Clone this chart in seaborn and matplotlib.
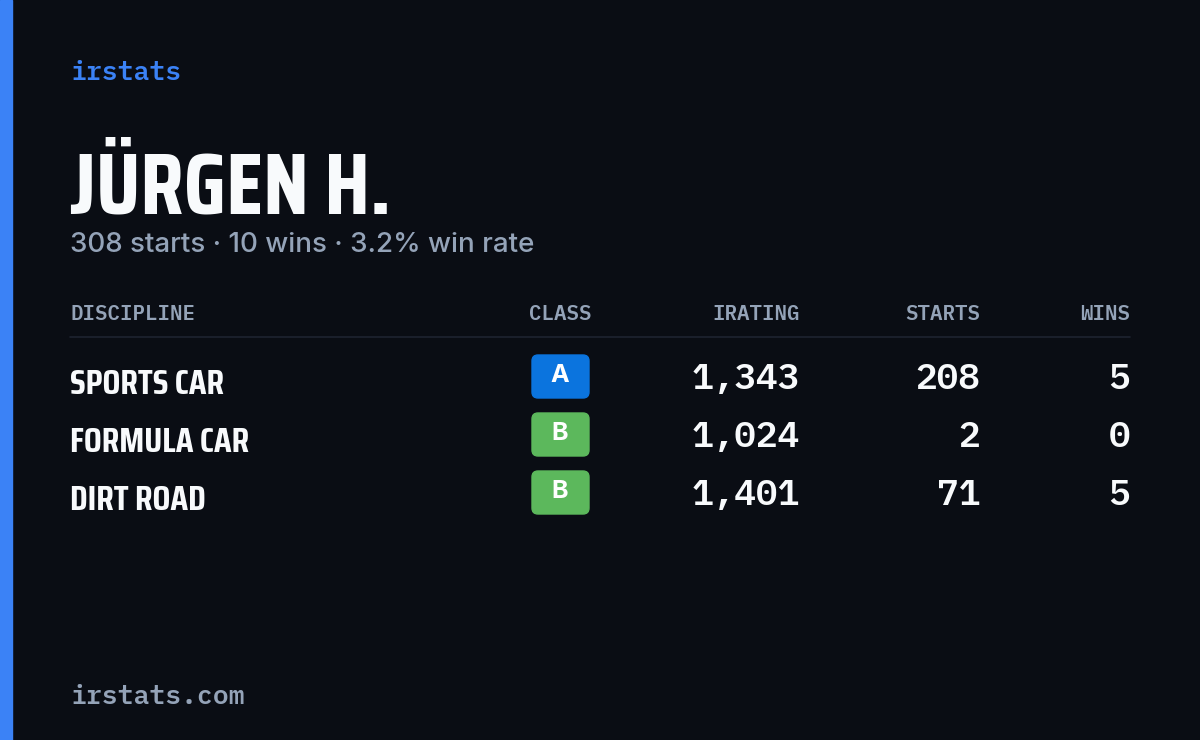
import matplotlib
matplotlib.use("Agg")
import matplotlib.pyplot as plt
import seaborn as sns
from matplotlib import font_manager as fm
from matplotlib.patches import FancyBboxPatch, Rectangle

disciplines = ["SPORTS CAR", "FORMULA CAR", "DIRT ROAD"]
classes = ["A", "B", "B"]
iratings = [1343, 1024, 1401]
starts = [208, 2, 71]
wins = [5, 0, 5]
headers = ["DISCIPLINE", "CLASS", "IRATING", "STARTS", "WINS"]
name = "JÜRGEN H."
total_starts, total_wins = 308, 10

sns.set_theme(style="dark")
bold_fams = {f.name for f in fm.fontManager.ttflist if isinstance(f.weight, int) and 600 <= f.weight <= 700}
avail = {f.name for f in fm.fontManager.ttflist}
def pick(cands, need_bold=False):
    pool = bold_fams if need_bold else avail
    for c in cands:
        if c in pool:
            return [c, "DejaVu Sans"]
    return ["DejaVu Sans"]

BG = "#0a0d14"
GRAY = "#94a3b8"
WHITE = "#f8fafc"
class_colors = {"A": "#0b74de", "B": "#5cb85c"}
COND = pick(["Saira Condensed", "Saira ExtraCondensed", "Barlow Condensed", "Asap Condensed"])
MONO = pick(["JetBrains Mono", "IBM Plex Mono", "Roboto Mono", "Source Code Pro", "DejaVu Sans Mono"], True)
SANS = pick(["Inter", "DejaVu Sans"])

fig = plt.figure(figsize=(12, 7.4), dpi=100, facecolor=BG)
ax = fig.add_axes([0, 0, 1, 1])
ax.set_facecolor(BG)
ax.set_xlim(0, 1200); ax.set_ylim(740, 0); ax.axis("off")

ax.add_patch(Rectangle((0, 0), 12, 740, color="#3b82f6"))
ax.text(70, 73, "irstats", color="#3b82f6", fontsize=19, family=MONO, weight="semibold", va="center")
ax.text(70, 214, name, color=WHITE, fontsize=63, family=COND, weight="bold", va="baseline")
rate = total_wins / total_starts * 100
ax.text(70, 245, f"{total_starts} starts · {total_wins} wins · {rate:.1f}% win rate",
        color=GRAY, fontsize=20, family=SANS, weight="medium", va="center")

hx = [70, 560, 800, 980, 1130]
ha = ["left", "center", "right", "right", "right"]
for x, h, a in zip(hx, headers, ha):
    ax.text(x, 314, h, color=GRAY, fontsize=15, family=MONO, weight="semibold", ha=a, va="center")
ax.plot([70, 1130], [337, 337], color="#1e2330", lw=1.2)

for i, (d, c, ir, s, w) in enumerate(zip(disciplines, classes, iratings, starts, wins)):
    y = 377 + 58 * i
    ax.text(70, y + 8, d, color=WHITE, fontsize=25.5, family=COND, weight="bold", va="center")
    ax.add_patch(FancyBboxPatch((532 + 6, y - 22 + 6), 57 - 12, 43 - 12,
                                boxstyle="round,pad=6", color=class_colors[c]))
    ax.text(560, y - 1, c, color="white", fontsize=18, family=SANS, weight="bold", ha="center", va="center")
    for x, v in ((800, f"{ir:,}"), (980, f"{s}"), (1130, f"{w}")):
        ax.text(x, y + 2, v, color=WHITE, fontsize=26, family=MONO, weight="semibold", ha="right", va="center")

ax.text(70, 697, "irstats.com", color=GRAY, fontsize=19, family=MONO, weight="semibold", va="center")
fig.savefig("out.png", dpi=100, facecolor=BG)
